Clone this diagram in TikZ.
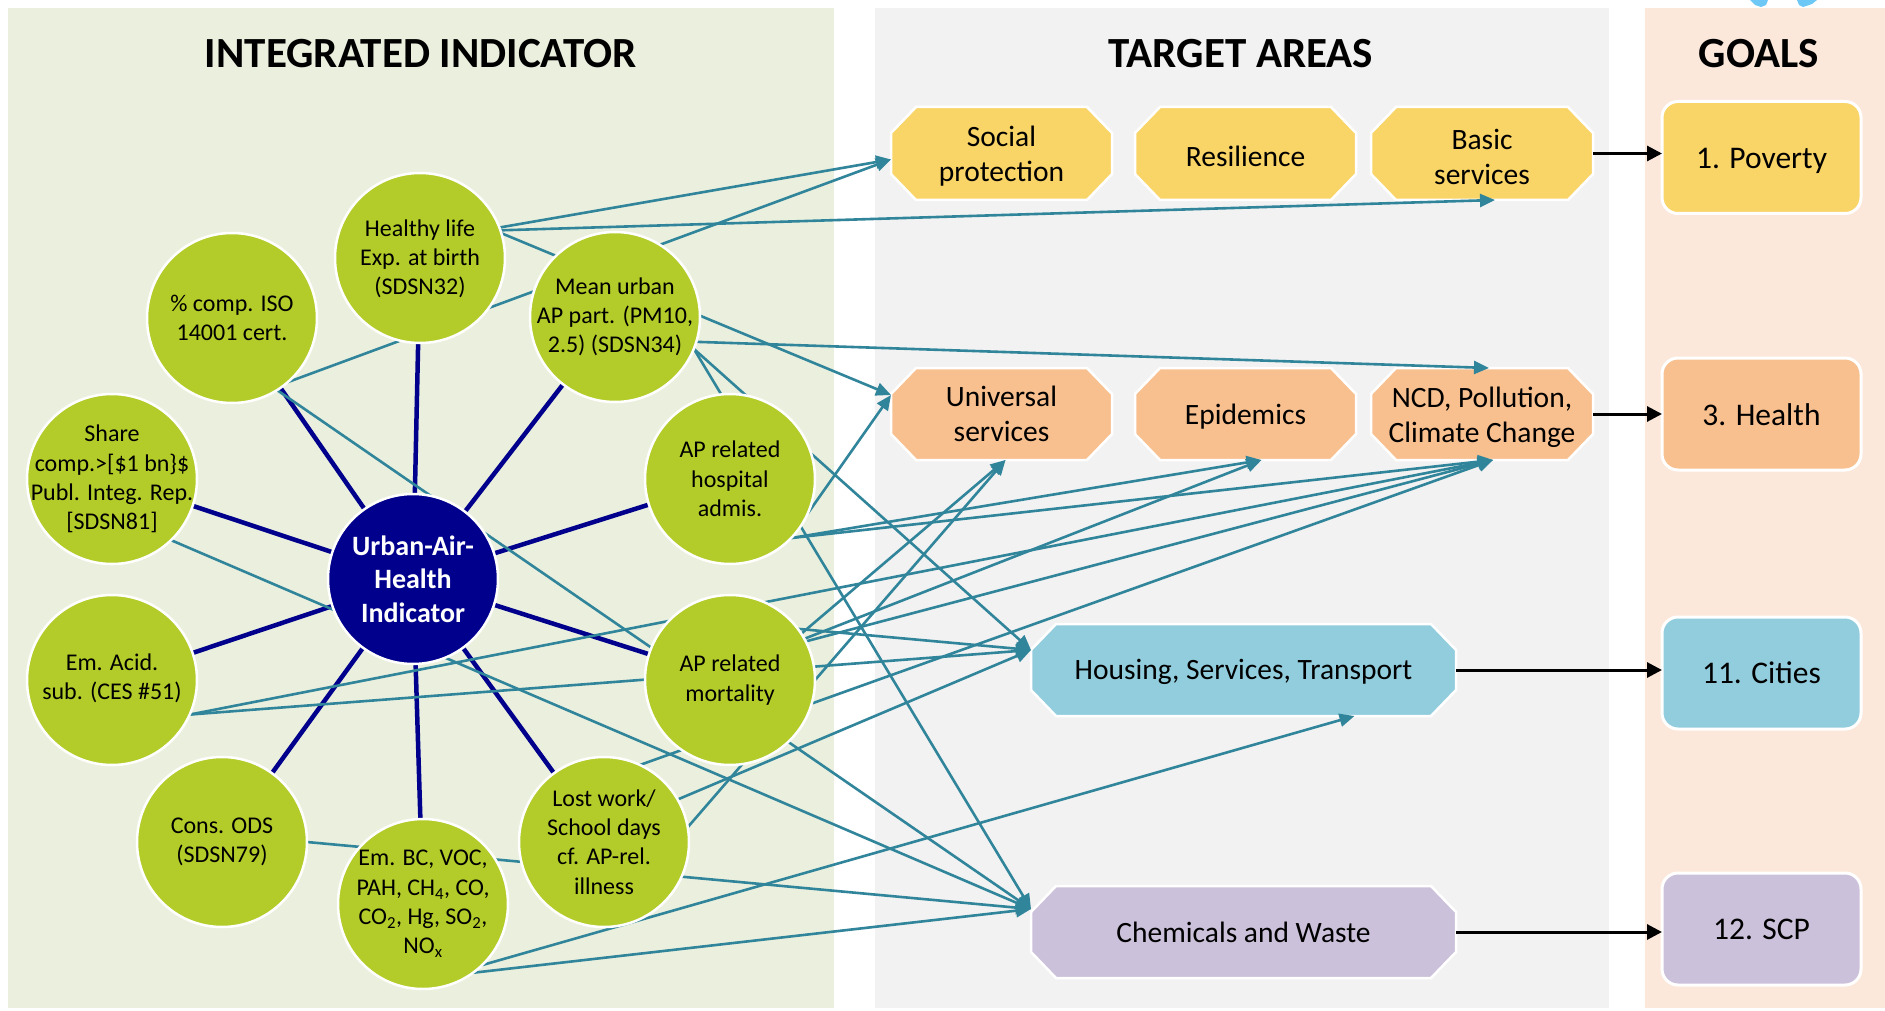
\documentclass[tikz,border=0pt]{standalone}
\usepackage{fontspec}
\setmainfont{Carlito}
\usetikzlibrary{arrows.meta}
\definecolor{panelL}{RGB}{235,240,222}
\definecolor{panelM}{RGB}{242,242,242}
\definecolor{panelR}{RGB}{252,232,218}
\definecolor{satgreen}{RGB}{179,204,41}
\definecolor{navyc}{RGB}{0,0,140}
\definecolor{tealc}{RGB}{49,133,155}
\definecolor{yelc}{RGB}{249,212,102}
\definecolor{orac}{RGB}{249,192,143}
\definecolor{bluc}{RGB}{146,205,221}
\definecolor{purc}{RGB}{204,193,218}
\definecolor{cyanc}{RGB}{110,200,245}
\pgfdeclarelayer{back}\pgfdeclarelayer{mid}\pgfdeclarelayer{lines}
\pgfsetlayers{back,mid,lines,main}
\newcommand\octshape[2]{%
  \fill[#2, draw=white, line width=2.5pt] ([xshift=25pt]#1.north west) -- ([xshift=-25pt]#1.north east) -- ([yshift=-26pt]#1.north east) -- ([yshift=26pt]#1.south east) -- ([xshift=-25pt]#1.south east) -- ([xshift=25pt]#1.south west) -- ([yshift=26pt]#1.south west) -- ([yshift=-26pt]#1.north west) -- cycle;}
\begin{document}
\begin{tikzpicture}[x=1pt,y=-1pt,
  sat/.style={circle, fill=satgreen, draw=white, line width=2.5pt, minimum size=170pt, inner sep=0pt, outer sep=0pt},
  sattext/.style={align=center, inner sep=0pt, font=\fontsize{24}{29.3}\selectfont},
  octnode/.style={rectangle, inner sep=0pt, outer sep=0pt},
  octtext/.style={align=center, inner sep=0pt, font=\fontsize{29.5}{35}\selectfont},
  goal/.style={rectangle, rounded corners=16pt, draw=white, line width=3pt, minimum width=199pt, minimum height=112pt, inner sep=0pt, outer sep=0pt},
  goaltext/.style={inner sep=0pt, font=\fontsize{31.5}{37}\selectfont},
  title/.style={font=\fontsize{43}{50}\selectfont\bfseries, inner sep=0pt},
  tl/.style={draw=tealc, line width=2.6pt, -{Triangle[length=15pt,width=13pt]}},
  nv/.style={draw=navyc, line width=4.5pt},
  bk/.style={draw=black, line width=3pt, -{Triangle[length=15pt,width=15pt]}},
]
\useasboundingbox (0,0) rectangle (1885,1011);
\begin{pgfonlayer}{back}
  \fill[white] (0,0) rectangle (1885,1011);
  \fill[panelL] (8,8) rectangle (834,1008);
  \fill[panelM] (875,8) rectangle (1609,1008);
  \fill[panelR] (1645,8) rectangle (1885,1008);
  \fill[cyanc] (1750,0) -- (1768,0) -- (1766,5) -- (1761,7) -- (1755,5) -- cycle;
  \fill[cyanc] (1797,0) -- (1817,0) -- (1812,4) -- (1803,7) -- (1799,5) -- cycle;
\end{pgfonlayer}

% titles
\node[title] (t1) at (421,53.5) {INTEGRATED INDICATOR};
\node[title] (t2) at (1241,53.5) {TARGET AREAS};
\node[title] (t3) at (1759,53.5) {GOALS};

% circles
\node[sat] (healthy) at (420,258) {};
\node[sat] (iso) at (232,318) {};
\node[sat] (mean) at (615,317) {};
\node[sat] (share) at (112,479) {};
\node[sat] (hosp) at (730,479) {};
\node[sat] (acid) at (112,680) {};
\node[sat] (mort) at (730,680) {};
\node[sat] (ods) at (222,842) {};
\node[sat] (embc) at (423,904) {};
\node[sat] (lost) at (604,842) {};
\node[sat, fill=navyc] (center) at (413,579) {};

\node[sattext] (healthyT) at ([yshift=-1pt]healthy) {Healthy life\\Exp. at birth\\(SDSN32)};
\node[sattext] (isoT) at (iso) {\% comp. ISO\\14001 cert.};
\node[sattext] (meanT) at (mean) {Mean urban\\AP part. (PM10,\\2.5) (SDSN34)};
\node[sattext] (shareT) at (share) {Share\\comp.>[\$1 bn\}\$\\Publ. Integ. Rep.\\{}[SDSN81]};
\node[sattext] (hospT) at (hosp) {AP related\\hospital\\admis.};
\node[sattext] (acidT) at ([yshift=2pt]acid) {Em. Acid.\\sub. (CES \#51)};
\node[sattext] (mortT) at (mort) {AP related\\mortality};
\node[sattext] (odsT) at (ods) {Cons. ODS\\(SDSN79)};
\node[sattext] (embcT) at (embc) {Em. BC, VOC,\\PAH, CH\textsubscript{4}, CO,\\CO\textsubscript{2}, Hg, SO\textsubscript{2},\\NO\textsubscript{x}};
\node[sattext] (lostT) at (lost) {Lost work/\\School days\\cf. AP-rel.\\illness};
\node[sattext, text=white, font=\fontsize{28}{33.7}\selectfont\bfseries] (centerT) at (center) {Urban-Air-\\Health\\Indicator};

% target areas
\node[octnode, minimum width=221pt, minimum height=93pt] (social) at (1001.5,153.5) {};
\node[octnode, minimum width=221pt, minimum height=93pt] (resil) at (1245.5,153.5) {};
\node[octnode, minimum width=222pt, minimum height=93pt] (basic) at (1482,153.5) {};
\node[octnode, minimum width=221pt, minimum height=92pt] (univ) at (1001.5,414) {};
\node[octnode, minimum width=221pt, minimum height=92pt] (epi) at (1245.5,414) {};
\node[octnode, minimum width=222pt, minimum height=92pt] (ncd) at (1482,414) {};
\node[octnode, minimum width=425pt, minimum height=92pt] (housing) at (1243.5,670) {};
\node[octnode, minimum width=425pt, minimum height=92pt] (chem) at (1243.5,932) {};

\node[octtext] (socialT) at ([yshift=-3pt]social) {Social\\protection};
\node[octtext] (resilT) at ([yshift=-3pt]resil) {Resilience};
\node[octtext] (basicT) at ([yshift=-3pt]basic) {Basic\\services};
\node[octtext] (univT) at (univ) {Universal\\services};
\node[octtext] (epiT) at ([yshift=-3pt]epi) {Epidemics};
\node[octtext] (ncdT) at ([yshift=-3pt]ncd) {NCD, Pollution,\\Climate Change};
\node[octtext] (housingT) at ([yshift=-2pt]housing) {Housing, Services, Transport};
\node[octtext] (chemT) at (chem) {Chemicals and Waste};

\begin{pgfonlayer}{mid}
  \octshape{social}{yelc}
  \octshape{resil}{yelc}
  \octshape{basic}{yelc}
  \octshape{univ}{orac}
  \octshape{epi}{orac}
  \octshape{ncd}{orac}
  \octshape{housing}{bluc}
  \octshape{chem}{purc}
\end{pgfonlayer}

% goals
\node[goal, fill=yelc] (poverty) at (1761.5,157.5) {};
\node[goal, fill=orac] (health) at (1761.5,414) {};
\node[goal, fill=bluc] (cities) at (1761.5,673) {};
\node[goal, fill=purc] (scp) at (1761.5,929) {};
\node[goaltext] (povertyT) at ([yshift=-3pt]poverty) {1. Poverty};
\node[goaltext] (healthT) at ([yshift=-1pt]health) {3. Health};
\node[goaltext] (citiesT) at (cities) {11. Cities};
\node[goaltext] (scpT) at (scp) {12. SCP};

\draw[bk] (basic.east) -- (basic.east -| poverty.west);
\draw[bk] (ncd.east) -- (ncd.east -| health.west);
\draw[bk] (housing.east) -- (housing.east -| cities.west);
\draw[bk] (chem.east) -- (chem.east -| scp.west);

\begin{pgfonlayer}{lines}
  % hub spokes
  \foreach \s in {healthy,iso,mean,share,hosp,acid,mort,ods,embc,lost}
    \draw[nv] (center) -- (\s);
  % teal connectors
  \draw[tl] (healthy.21) -- ([yshift=-6pt]social.west);
  \draw[tl] (healthy.19) -- ([xshift=13pt]basic.south);
  \draw[tl] (healthy.17) -- ([yshift=19pt]univ.west);
  \draw[tl] (iso.-49) -- ([yshift=-6pt]social.west);
  \draw[tl] (iso.-58) -- ([yshift=23pt]chem.west);
  \draw[tl] (share.-46) -- ([yshift=23pt]chem.west);
  \draw[tl] (mean.-17) -- ([xshift=7pt]ncd.north);
  \draw[tl] (mean.-22) -- ([yshift=20pt]housing.west);
  \draw[tl] (mean.-22) -- ([yshift=23pt]chem.west);
  \draw[tl] (hosp.-24) -- ([yshift=19pt]univ.west);
  \draw[tl] (hosp.-44) -- ([xshift=16pt]epi.south);
  \draw[tl] (hosp.-44) -- ([xshift=11pt]ncd.south);
  \draw[tl] (acid.-24) -- ([xshift=11pt]ncd.south);
  \draw[tl] (acid.-24) -- ([yshift=20pt]housing.west);
  \draw[tl] (mort.33) -- ([xshift=4pt]univ.south);
  \draw[tl] (mort.29) -- ([xshift=16pt]epi.south);
  \draw[tl] (mort.27) -- ([xshift=11pt]ncd.south);
  \draw[tl] (mort.37) -- ([yshift=20pt]housing.west);
  \draw[tl] (lost.10) -- ([xshift=4pt]univ.south);
  \draw[tl] (lost.30) -- ([yshift=20pt]housing.west);
  \draw[tl] (lost.65) -- ([xshift=11pt]ncd.south);
  \draw[tl] (ods.0) -- ([yshift=23pt]chem.west);
  \draw[tl] (embc.-46) -- ([xshift=111pt]housing.south);
  \draw[tl] (embc.-54) -- ([yshift=23pt]chem.west);
\end{pgfonlayer}
\end{tikzpicture}
\end{document}
